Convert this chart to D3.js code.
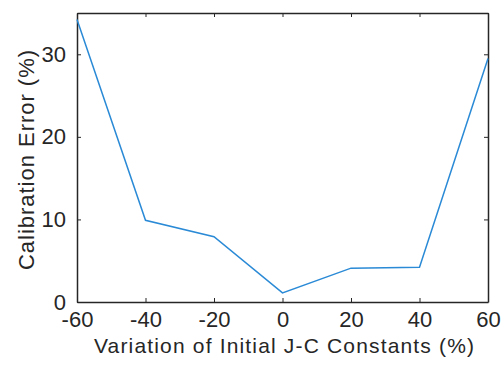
<!DOCTYPE html>
<html>
<head>
<meta charset="utf-8">
<script src="https://cdn.jsdelivr.net/npm/d3@7"></script>
<style>
  body { margin: 0; background: #fff; }
  svg { display: block; font-family: "Liberation Sans", Arial, sans-serif; }
</style>
</head>
<body>
<svg id="chart" width="501" height="369"></svg>
<script>
// Variation of the initial J-C constants (%) and the resulting calibration error (%)
const variation = [-60, -40, -20, 0, 20, 40, 60];
const calibError = [34.2, 9.9, 7.9, 1.1, 4.1, 4.2, 29.5];
const xTicks = [-60, -40, -20, 0, 20, 40, 60];
const yTicks = [0, 10, 20, 30];

const svg = d3.select('#chart');
const margin = { top: 13, right: 13, bottom: 67, left: 77 };
const width = 501 - margin.left - margin.right,
      height = 369 - margin.top - margin.bottom;

const x = d3.scaleLinear().domain([-60, 60]).range([margin.left, margin.left + width]);
const y = d3.scaleLinear().domain([0, 35]).range([margin.top + height, margin.top]);

const axisColor = '#262626';
const tickLen = 4;
const plain = d => String(d); // hyphen minus, like the original

// Axes with inward ticks on all four sides (box)
const gx = svg.append('g')
  .attr('transform', `translate(0,${margin.top + height})`)
  .call(d3.axisBottom(x).tickValues(xTicks).tickFormat(plain).tickSizeInner(-tickLen).tickSizeOuter(0).tickPadding(9));
const gxTop = svg.append('g')
  .attr('transform', `translate(0,${margin.top})`)
  .call(d3.axisTop(x).tickValues(xTicks).tickSizeInner(-tickLen).tickSizeOuter(0).tickFormat(''));
const gy = svg.append('g')
  .attr('transform', `translate(${margin.left},0)`)
  .call(d3.axisLeft(y).tickValues(yTicks).tickFormat(plain).tickSizeInner(-tickLen).tickSizeOuter(0).tickPadding(11));
const gyRight = svg.append('g')
  .attr('transform', `translate(${margin.left + width},0)`)
  .call(d3.axisRight(y).tickValues(yTicks).tickSizeInner(-tickLen).tickSizeOuter(0).tickFormat(''));

[gx, gxTop, gy, gyRight].forEach(g => {
  g.selectAll('path.domain').attr('stroke', axisColor).attr('stroke-width', 1.5);
  g.selectAll('.tick line').attr('stroke', axisColor).attr('stroke-width', 1);
  g.selectAll('.tick text')
    .attr('fill', axisColor)
    .style('font-size', '22px')
    .style('font-family', '"Liberation Sans", Arial, sans-serif');
});

// Data line
const line = d3.line()
  .x((d, i) => x(variation[i]))
  .y(d => y(d));

svg.append('path')
  .datum(calibError)
  .attr('fill', 'none')
  .attr('stroke', '#2a8ad6')
  .attr('stroke-width', 1.5)
  .attr('d', line);

// Axis labels
svg.append('text')
  .attr('x', 94)
  .attr('y', 353)
  .attr('textLength', 380)
  .attr('lengthAdjust', 'spacing')
  .attr('fill', axisColor)
  .style('font-size', '21px')
  .text('Variation of Initial J-C Constants (%)');

svg.append('text')
  .attr('transform', `translate(34,270) rotate(-90)`)
  .attr('textLength', 220)
  .attr('lengthAdjust', 'spacing')
  .attr('fill', axisColor)
  .style('font-size', '22px')
  .text('Calibration Error (%)');
</script>
</body>
</html>
